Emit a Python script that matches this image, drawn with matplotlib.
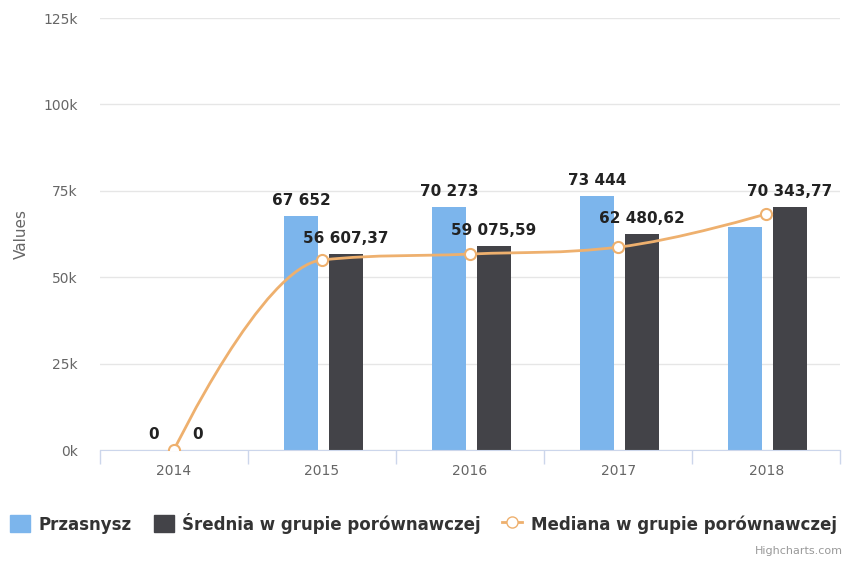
import matplotlib.pyplot as plt
import numpy as np
from matplotlib.lines import Line2D
from matplotlib.patches import Patch, PathPatch
from matplotlib.path import Path

# dane
years = ['2014', '2015', '2016', '2017', '2018']
przasnysz = [0, 67652, 70273, 73444, 64500]
srednia = [0, 56607.37, 59075.59, 62480.62, 70343.77]
mediana = [0, 55000, 56700, 58700, 68300]
labels_blue = ['0', '67 652', '70 273', '73 444', None]
labels_dark = ['0', '56 607,37', '59 075,59', '62 480,62', '70 343,77']

c_blue = '#7cb5ec'
c_dark = '#434348'
c_line = '#eeb06e'


def spline_path(xs, ys, smoothing=1.5):
    # krzywa jak w highcharts (spline), punkty kontrolne beziera
    denom = smoothing + 1
    n = len(xs)
    conts = []
    for i in range(n):
        if i == 0 or i == n - 1:
            conts.append(((xs[i], ys[i]), (xs[i], ys[i])))
            continue
        px, py = xs[i], ys[i]
        lx, ly = xs[i - 1], ys[i - 1]
        nx, ny = xs[i + 1], ys[i + 1]
        lcx = (smoothing * px + lx) / denom
        lcy = (smoothing * py + ly) / denom
        rcx = (smoothing * px + nx) / denom
        rcy = (smoothing * py + ny) / denom
        corr = ((rcy - lcy) * (rcx - px)) / (rcx - lcx) + py - rcy
        lcy += corr
        rcy += corr
        if lcy > max(ly, py):
            lcy = max(ly, py)
            rcy = 2 * py - lcy
        elif lcy < min(ly, py):
            lcy = min(ly, py)
            rcy = 2 * py - lcy
        if rcy > max(py, ny):
            rcy = max(py, ny)
            lcy = 2 * py - rcy
        elif rcy < min(py, ny):
            rcy = min(py, ny)
            lcy = 2 * py - rcy
        conts.append(((lcx, lcy), (rcx, rcy)))
    verts = [(xs[0], ys[0])]
    codes = [Path.MOVETO]
    for i in range(1, n):
        verts += [conts[i - 1][1], conts[i][0], (xs[i], ys[i])]
        codes += [Path.CURVE4] * 3
    return Path(verts, codes)


fig = plt.figure(figsize=(8.47, 5.63), dpi=100)
ax = fig.add_axes([0.118, 0.2007, 0.874, 0.7673])

x = np.arange(len(years))
w = 0.23
ax.bar(x - 0.14, przasnysz, w, color=c_blue, zorder=2)
ax.bar(x + 0.16, srednia, w, color=c_dark, zorder=2)
ax.add_patch(PathPatch(spline_path(list(x), mediana), facecolor='none',
                       edgecolor=c_line, linewidth=2, zorder=3))
ax.plot(x, mediana, linestyle='none', marker='o', markersize=8,
        markerfacecolor='white', markeredgecolor=c_line, markeredgewidth=1.5, zorder=4)

# etykiety danych
for i in range(len(years)):
    if labels_blue[i]:
        ax.annotate(labels_blue[i], (x[i] - 0.14, przasnysz[i]), xytext=(0, 6),
                    textcoords='offset points', ha='center', va='bottom',
                    fontsize=11, fontweight='bold', color='#222222', zorder=5)
    ax.annotate(labels_dark[i], (x[i] + 0.16, srednia[i]), xytext=(0, 6),
                textcoords='offset points', ha='center', va='bottom',
                fontsize=11, fontweight='bold', color='#222222', zorder=5)

ax.set_xlim(-0.5, 4.5)
ax.set_ylim(0, 125000)
ax.set_yticks(np.arange(0, 125001, 25000))
ax.set_yticklabels([f'{int(v/1000)}k' for v in np.arange(0, 125001, 25000)])
ax.set_xticks(x)
ax.set_xticklabels(years)
ax.set_xticks(np.arange(-0.5, 4.6, 1), minor=True)
ax.tick_params(axis='x', which='major', length=0, pad=10, labelsize=10, labelcolor='#666666')
ax.tick_params(axis='x', which='minor', length=10, color='#ccd6eb', width=1)
ax.tick_params(axis='y', length=0, pad=16, labelsize=10, labelcolor='#666666')
ax.grid(axis='y', color='#e6e6e6', linewidth=1, zorder=0)
for s in ['top', 'right', 'left']:
    ax.spines[s].set_visible(False)
ax.spines['bottom'].set_color('#ccd6eb')
ax.set_ylabel('Values', fontsize=11, color='#666666', labelpad=10)

handles = [Patch(color=c_blue, label='Przasnysz'),
           Patch(color=c_dark, label='Średnia w grupie porównawczej'),
           Line2D([0], [0], color=c_line, lw=2, marker='o', markersize=8,
                  markerfacecolor='white', markeredgecolor=c_line,
                  label='Mediana w grupie porównawczej')]
fig.legend(handles=handles, loc='center', bbox_to_anchor=(0.5, 0.071), ncol=3,
           frameon=False, prop={'weight': 'bold', 'size': 12}, handlelength=1.2,
           handleheight=1.2, columnspacing=1.3, handletextpad=0.5, labelcolor='#333333')
fig.text(0.995, 0.012, 'Highcharts.com', ha='right', va='bottom', fontsize=8, color='#999999')

plt.savefig('out.png', dpi=100, facecolor='white')
